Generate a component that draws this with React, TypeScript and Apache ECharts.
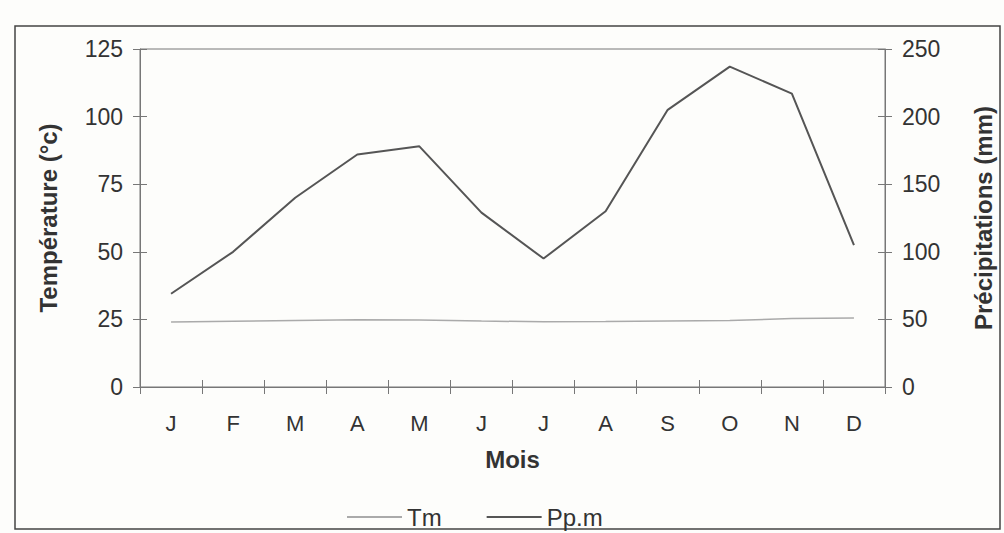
import React, { useEffect, useRef } from "react";
import * as echarts from "echarts";

const months = ["J", "F", "M", "A", "M", "J", "J", "A", "S", "O", "N", "D"];
const tm = [24, 24.3, 24.6, 24.9, 24.8, 24.4, 24.1, 24.2, 24.4, 24.6, 25.3, 25.5];
const ppm = [69, 100, 140, 172, 178, 129, 95, 130, 205, 237, 217, 105];

const FONT = "Liberation Sans, Arial, sans-serif";
const TXT = "#333";
const AX = "#777";

export default function App() {
  const ref = useRef<HTMLDivElement>(null);
  useEffect(() => {
    if (!ref.current) return;
    const chart = echarts.init(ref.current, null, { renderer: "svg" });
    const tickStyle = { show: true, length: 7, lineStyle: { color: AX, width: 1 } };
    chart.setOption({
      animation: false,
      backgroundColor: "#fdfdfb",
      textStyle: { fontFamily: FONT, color: TXT },
      grid: {
        left: 140,
        right: 119,
        top: 49,
        bottom: 146,
        show: true,
        borderColor: AX,
        borderWidth: 1,
        backgroundColor: "transparent",
      },
      legend: {
        left: 342,
        top: 500,
        icon: "rect",
        itemWidth: 55,
        itemHeight: 2,
        itemGap: 45,
        textStyle: { fontSize: 24, color: TXT, fontFamily: FONT },
        data: ["Tm", "Pp.m"],
      },
      xAxis: [
        {
          type: "category",
          data: months,
          boundaryGap: true,
          axisLine: { show: true, lineStyle: { color: AX } },
          axisTick: { ...tickStyle, alignWithLabel: false },
          axisLabel: { fontSize: 22, color: TXT, margin: 25, fontFamily: FONT },
          name: "Mois",
          nameLocation: "middle",
          nameGap: 60,
          nameTextStyle: { fontSize: 24, fontWeight: "bold", color: TXT, fontFamily: FONT },
          splitLine: { show: false },
        },
        {
          type: "category",
          data: months,
          position: "bottom",
          boundaryGap: true,
          axisLine: { show: false },
          axisTick: { ...tickStyle, inside: true },
          axisLabel: { show: false },
          splitLine: { show: false },
        },
      ],
      yAxis: [
        {
          type: "value",
          min: 0,
          max: 125,
          interval: 25,
          position: "left",
          axisLine: { show: true, lineStyle: { color: AX } },
          axisTick: tickStyle,
          axisLabel: { fontSize: 23, color: TXT, margin: 17, fontFamily: FONT },
          splitLine: { show: false },
          name: "Température (°c)",
          nameLocation: "middle",
          nameGap: 80,
          nameTextStyle: { fontSize: 24, fontWeight: "bold", color: TXT, fontFamily: FONT },
        },
        {
          type: "value",
          min: 0,
          max: 250,
          interval: 50,
          position: "right",
          axisLine: { show: true, lineStyle: { color: AX } },
          axisTick: tickStyle,
          axisLabel: { fontSize: 23, color: TXT, margin: 17, fontFamily: FONT },
          splitLine: { show: false },
          name: "Précipitations (mm)",
          nameLocation: "middle",
          nameGap: 86,
          nameTextStyle: { fontSize: 24, fontWeight: "bold", color: TXT, fontFamily: FONT },
        },
        {
          type: "value",
          min: 0,
          max: 125,
          interval: 25,
          position: "left",
          axisLine: { show: false },
          axisTick: { ...tickStyle, inside: true },
          axisLabel: { show: false },
          splitLine: { show: false },
        },
        {
          type: "value",
          min: 0,
          max: 250,
          interval: 50,
          position: "right",
          axisLine: { show: false },
          axisTick: { ...tickStyle, inside: true },
          axisLabel: { show: false },
          splitLine: { show: false },
        },
      ],
      series: [
        {
          name: "Tm",
          type: "line",
          data: tm,
          yAxisIndex: 0,
          symbol: "none",
          lineStyle: { color: "#aaa", width: 1.5 },
          itemStyle: { color: "#aaa" },
        },
        {
          name: "Pp.m",
          type: "line",
          data: ppm,
          yAxisIndex: 1,
          symbol: "none",
          lineStyle: { color: "#555", width: 2 },
          itemStyle: { color: "#555" },
        },
      ],
      graphic: [
        {
          type: "rect",
          shape: { x: 15, y: 26, width: 985, height: 503 },
          style: { fill: "none", stroke: "#444", lineWidth: 1.5 },
          silent: true,
        },
      ],
    });
    return () => chart.dispose();
  }, []);
  return (
    <div
      ref={ref}
      style={{ position: "fixed", left: 0, top: 0, width: 1004, height: 533 }}
    />
  );
}
